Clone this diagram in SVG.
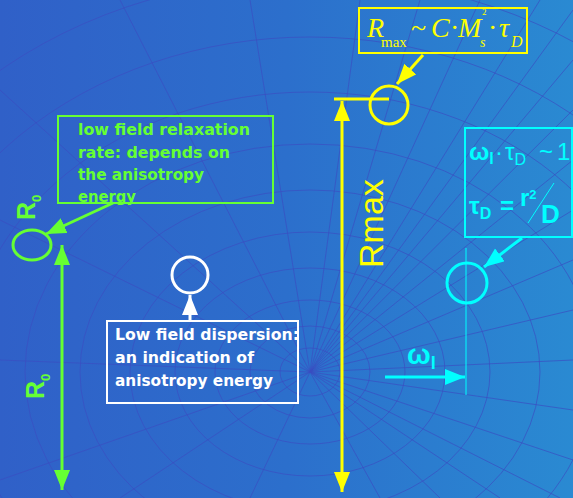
<svg xmlns="http://www.w3.org/2000/svg" width="573" height="498" viewBox="0 0 573 498">
<defs>
<linearGradient id="bg" x1="0" y1="0" x2="1" y2="0">
<stop offset="0" stop-color="#3060c8"/>
<stop offset="0.5" stop-color="#2c6fcc"/>
<stop offset="1" stop-color="#2a8ad2"/>
</linearGradient>
<marker id="ay" markerUnits="userSpaceOnUse" markerWidth="20" markerHeight="20" refX="20" refY="8" orient="auto-start-reverse"><path d="M0,0 L20,8 L0,16 Z" fill="#ffff00"/></marker>
<marker id="ag" markerUnits="userSpaceOnUse" markerWidth="20" markerHeight="20" refX="20" refY="8" orient="auto-start-reverse"><path d="M0,0 L20,8 L0,16 Z" fill="#66ff33"/></marker>
<marker id="ac" markerUnits="userSpaceOnUse" markerWidth="20" markerHeight="20" refX="20" refY="8" orient="auto-start-reverse"><path d="M0,0 L20,8 L0,16 Z" fill="#00ffff"/></marker>
<marker id="aw" markerUnits="userSpaceOnUse" markerWidth="20" markerHeight="20" refX="20" refY="8" orient="auto-start-reverse"><path d="M0,0 L20,8 L0,16 Z" fill="#ffffff"/></marker>
</defs>
<style>
.mesh{fill:none;stroke:#3a4fc2;stroke-width:1;opacity:0.7}
.comic{font-family:"DejaVu Sans","Liberation Sans",sans-serif;font-weight:bold}
.arial{font-family:"Liberation Sans",Arial,sans-serif}
.serif{font-family:"Liberation Serif","Times New Roman",serif}
</style>
<rect width="573" height="498" fill="url(#bg)"/>
<g id="mesh">
<ellipse class="mesh" cx="310" cy="372" rx="30" ry="24"/>
<ellipse class="mesh" cx="310" cy="372" rx="60" ry="46"/>
<ellipse class="mesh" cx="310" cy="372" rx="95" ry="72"/>
<ellipse class="mesh" cx="310" cy="372" rx="135" ry="104"/>
<ellipse class="mesh" cx="310" cy="372" rx="180" ry="140"/>
<ellipse class="mesh" cx="310" cy="372" rx="230" ry="182"/>
<ellipse class="mesh" cx="310" cy="372" rx="285" ry="228"/>
<ellipse class="mesh" cx="310" cy="372" rx="345" ry="280"/>
<ellipse class="mesh" cx="310" cy="372" rx="410" ry="335"/>
<ellipse class="mesh" cx="310" cy="372" rx="480" ry="395"/>
<path class="mesh" d="M310,372 L573,60 M310,372 L573,110 M310,372 L573,160 M310,372 L573,210 M310,372 L573,260 M310,372 L573,310 M310,372 L573,360 M310,372 L573,410 M310,372 L573,460 M310,372 L560,498 M310,372 L500,498 M310,372 L440,498 M310,372 L380,498 M310,372 L540,0 M310,372 L480,0 M310,372 L420,0 M310,372 L360,0 M310,372 L573,10 M310,372 L250,0 M310,372 L120,0 M310,372 L0,90 M310,372 L0,220 M310,372 L0,360 M310,372 L0,480 M310,372 L120,498 M310,372 L250,498"/>
</g>
<g id="connectors">
<line x1="423" y1="55" x2="397" y2="84" stroke="#ffff00" stroke-width="3" marker-end="url(#ay)"/>
<line x1="334" y1="99" x2="389" y2="99" stroke="#ffff00" stroke-width="3"/>
<line x1="342" y1="101" x2="342" y2="492" stroke="#ffff00" stroke-width="3" marker-start="url(#ay)" marker-end="url(#ay)"/>
<line x1="113" y1="203" x2="46" y2="234" stroke="#66ff33" stroke-width="3" marker-end="url(#ag)"/>
<line x1="62" y1="245" x2="62" y2="490" stroke="#66ff33" stroke-width="3" marker-start="url(#ag)" marker-end="url(#ag)"/>
<line x1="190" y1="321" x2="190" y2="295" stroke="#ffffff" stroke-width="3" marker-end="url(#aw)"/>
<line x1="522" y1="238" x2="484" y2="267" stroke="#00ffff" stroke-width="3" marker-end="url(#ac)"/>
<line x1="466" y1="248" x2="466" y2="395" stroke="#00ffff" stroke-width="1"/>
<line x1="385" y1="377" x2="465" y2="377" stroke="#00ffff" stroke-width="3" marker-end="url(#ac)"/>
</g>
<g id="rmax-formula">
<rect x="359" y="8" width="168" height="45" fill="none" stroke="#ffff00" stroke-width="2"/>
<text class="serif" fill="#ffff00" font-size="28" y="37"><tspan x="367" font-style="italic">R</tspan><tspan x="381" y="47" font-size="15">max</tspan><tspan x="411" y="37">~</tspan><tspan x="431" font-style="italic">C</tspan><tspan x="450">·</tspan><tspan x="458" font-style="italic">M</tspan><tspan x="480" y="47" font-size="14" font-style="italic">s</tspan><tspan x="482" y="15" font-size="9">2</tspan><tspan x="488" y="37">·</tspan><tspan x="499" font-style="italic">τ</tspan><tspan x="511" y="47" font-size="16" font-style="italic">D</tspan></text>
</g>
<g id="rmax-node">
<circle cx="389" cy="105" r="19" fill="none" stroke="#ffff00" stroke-width="3"/>
</g>
<g id="rmax-label">
<text class="arial" fill="#ffff00" font-size="34" transform="translate(383,268) rotate(-90)">Rmax</text>
</g>
<g id="low-field-box">
<rect x="58" y="116" width="215" height="87" fill="none" stroke="#66ff33" stroke-width="2"/>
<text class="comic" fill="#66ff33" font-size="15"><tspan x="78" y="135" textLength="172" lengthAdjust="spacingAndGlyphs">low field relaxation</tspan><tspan x="78" y="158" textLength="152" lengthAdjust="spacingAndGlyphs">rate: depends on</tspan><tspan x="78" y="180" textLength="126" lengthAdjust="spacingAndGlyphs">the anisotropy</tspan><tspan x="78" y="202" textLength="58" lengthAdjust="spacingAndGlyphs">energy</tspan></text>
</g>
<g id="r0-node">
<ellipse cx="32" cy="245" rx="19" ry="15" fill="none" stroke="#66ff33" stroke-width="3"/>
<text class="arial" fill="#66ff33" font-size="25" font-weight="bold" transform="translate(35,220) rotate(-90)">R<tspan font-size="13" dy="6">0</tspan></text>
</g>
<g id="r0-label">
<text class="arial" fill="#66ff33" font-size="25" font-weight="bold" transform="translate(44,399) rotate(-90)">R<tspan font-size="13" dy="6">0</tspan></text>
</g>
<g id="dispersion-node">
<circle cx="190" cy="275" r="18" fill="none" stroke="#ffffff" stroke-width="3"/>
</g>
<g id="dispersion-box">
<rect x="107" y="321" width="191" height="82" fill="none" stroke="#ffffff" stroke-width="2"/>
<text class="comic" fill="#ffffff" font-size="16"><tspan x="115" y="340" textLength="184" lengthAdjust="spacingAndGlyphs">Low field dispersion:</tspan><tspan x="115" y="363" textLength="139" lengthAdjust="spacingAndGlyphs">an indication of</tspan><tspan x="115" y="386" textLength="158" lengthAdjust="spacingAndGlyphs">anisotropy energy</tspan></text>
</g>
<g id="tau-box">
<rect x="465" y="128" width="107" height="109" fill="none" stroke="#00ffff" stroke-width="2"/>
<text class="arial" fill="#00ffff" font-size="24" y="160"><tspan x="469" font-weight="bold">ω</tspan><tspan font-size="16" dy="4" font-weight="bold">l</tspan><tspan dy="-4" x="495">·</tspan><tspan x="505">τ</tspan><tspan font-size="16" dy="5">D</tspan><tspan x="539" dy="-5">~</tspan><tspan x="557">1</tspan></text>
<text class="arial" fill="#00ffff" font-size="24" font-weight="bold" y="214"><tspan x="469">τ</tspan><tspan font-size="16" dy="5">D</tspan><tspan x="500" dy="-5">=</tspan><tspan x="520" dy="-8">r</tspan><tspan font-size="13" dy="-7">2</tspan><tspan x="541" dy="24" font-size="26">D</tspan></text>
<line x1="528" y1="223" x2="554" y2="183" stroke="#00ffff" stroke-width="1"/>
</g>
<g id="tau-node">
<circle cx="467" cy="283" r="20" fill="none" stroke="#00ffff" stroke-width="3"/>
</g>
<g id="omega-label">
<text class="arial" fill="#00ffff" font-size="28" font-weight="bold" y="364"><tspan x="407">ω</tspan><tspan font-size="18" dy="5">l</tspan></text>
</g>
</svg>
